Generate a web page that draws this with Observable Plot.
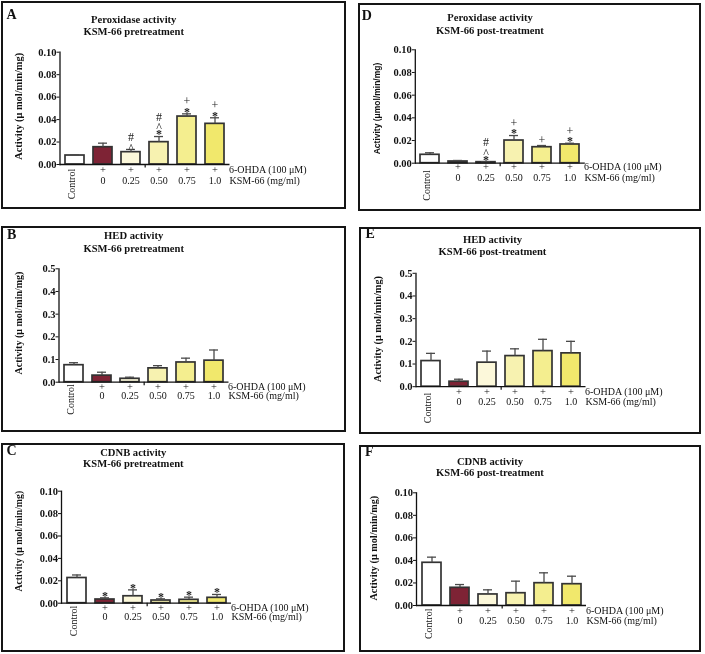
<!DOCTYPE html>
<html><head><meta charset="utf-8">
<script src="https://cdn.jsdelivr.net/npm/d3@7"></script>
<script src="https://cdn.jsdelivr.net/npm/@observablehq/plot@0.6"></script>
<style>
body{margin:0;background:#fff;}
#root{position:relative;width:705px;height:654px;overflow:hidden;background:#fff;font-family:"Liberation Serif","Times New Roman",serif;color:#111;}
.box{position:absolute;border:2px solid #151515;box-sizing:border-box;}
.letter{position:absolute;font-weight:bold;font-size:14px;line-height:14px;white-space:nowrap;}
.title{position:absolute;font-weight:bold;font-size:10.6px;line-height:12px;white-space:nowrap;transform:translateX(-50%);}
</style></head><body><div id="root"></div>
<script>
// ---- data ----
const categories = ["Control", "0", "0.25", "0.50", "0.75", "1.0"];
const ohdaRow = ["", "+", "+", "+", "+", "+"];
const ksmRow = ["", "0", "0.25", "0.50", "0.75", "1.0"];
const ohdaLabel = "6-OHDA (100 μM)";
const ksmLabel = "KSM-66 (mg/ml)";
const yLabelSerif = "Activity (μ mol/min/mg)";
const yLabelSans = "Activity (μmol/min/mg)";
const ticksSmall = [0, 0.02, 0.04, 0.06, 0.08, 0.10];
const ticksLarge = [0, 0.1, 0.2, 0.3, 0.4, 0.5];

const peroxPreMean = [0.0080, 0.0154, 0.0110, 0.0199, 0.0427, 0.0362];
const peroxPreSem  = [0.0006, 0.0036, 0.0024, 0.0050, 0.0024, 0.0054];
const peroxPreSig  = [[], [], ["^", "#"], ["*", "^", "#"], ["*", "+"], ["*", "+"]];

const hedPreMean = [0.075, 0.029, 0.015, 0.061, 0.087, 0.095];
const hedPreSem  = [0.011, 0.015, 0.007, 0.012, 0.019, 0.047];

const cdnbPreMean = [0.0225, 0.0033, 0.0062, 0.0024, 0.0030, 0.0048];
const cdnbPreSem  = [0.0027, 0.0015, 0.0057, 0.0015, 0.0024, 0.0030];
const cdnbPreSig  = [[], ["*"], ["*"], ["*"], ["*"], ["*"]];

const peroxPostMean = [0.0074, 0.0015, 0.0009, 0.0200, 0.0141, 0.0165];
const peroxPostSem  = [0.0018, 0.0009, 0.0003, 0.0044, 0.0015, 0.0011];
const peroxPostSig  = [[], [], ["*", "^", "#"], ["*", "+"], ["+"], ["*", "+"]];

const hedPostMean = [0.113, 0.022, 0.106, 0.135, 0.157, 0.147];
const hedPostSem  = [0.034, 0.011, 0.051, 0.032, 0.052, 0.053];

const cdnbPostMean = [0.0379, 0.0157, 0.0098, 0.0109, 0.0198, 0.0189];
const cdnbPostSem  = [0.0050, 0.0029, 0.0041, 0.0107, 0.0092, 0.0071];

// ---- styles / layout ----
const barColors = ["#ffffff", "#7e2335", "#fcf8da", "#f7f2b0", "#f4ee8f", "#f1e86c"];
const FRAME_W = 170;
const SERIF = "'Liberation Serif','Times New Roman',serif";
const SANS = "'Liberation Sans',Arial,sans-serif";

const panels = [
  {letter: "A", title: ["Peroxidase activity", "KSM-66 pretreatment"], mean: peroxPreMean, sem: peroxPreSem, sig: peroxPreSig,
   ticks: ticksSmall, fmt: ".2f", ylabel: yLabelSerif, ylabFont: SERIF, ylabSize: 10.4,
   box: [1, 1, 346, 209], letterPos: [6.5, 15], titleX: 133.7, titleY: [20, 32.3],
   frame: {left: 59.5, top: 51.7, bottom: 164}, ylabDx: -41.2, ylabDy: -2, ctrlDy: 4.3, r1: 8.5, r2: 19},
  {letter: "B", title: ["HED activity", "KSM-66 pretreatment"], mean: hedPreMean, sem: hedPreSem, sig: [],
   ticks: ticksLarge, fmt: ".1f", ylabel: yLabelSerif, ylabFont: SERIF, ylabSize: 10,
   box: [1, 226, 346, 432], letterPos: [7, 235.3], titleX: 133.7, titleY: [236, 248.5],
   frame: {left: 58.5, top: 268.3, bottom: 381.7}, ylabDx: -40.5, ylabDy: -2.5, ctrlDy: 2, r1: 7.5, r2: 17.2},
  {letter: "C", title: ["CDNB activity", "KSM-66 pretreatment"], mean: cdnbPreMean, sem: cdnbPreSem, sig: cdnbPreSig,
   ticks: ticksSmall, fmt: ".2f", ylabel: yLabelSerif, ylabFont: SERIF, ylabSize: 9.8,
   box: [1, 443, 345, 652], letterPos: [6.5, 450.5], titleX: 133.3, titleY: [452.5, 464],
   frame: {left: 61, top: 490.7, bottom: 602.7}, ylabDx: -43, ylabDy: -6, ctrlDy: 2.5, r1: 7.3, r2: 17},
  {letter: "D", title: ["Peroxidase activity", "KSM-66 post-treatment"], mean: peroxPostMean, sem: peroxPostSem, sig: peroxPostSig,
   ticks: ticksSmall, fmt: ".2f", ylabel: yLabelSans, ylabFont: SANS, ylabSize: 8.5,
   box: [357.5, 3, 701, 211], letterPos: [361.7, 16], titleX: 490, titleY: [18.3, 31],
   frame: {left: 414.3, top: 49.3, bottom: 162.7}, ylabDx: -38.3, ylabDy: 2, ctrlDy: 7, r1: 6.5, r2: 17.8},
  {letter: "E", title: ["HED activity", "KSM-66 post-treatment"], mean: hedPostMean, sem: hedPostSem, sig: [],
   ticks: ticksLarge, fmt: ".1f", ylabel: yLabelSerif, ylabFont: SERIF, ylabSize: 10.3,
   box: [359, 226.5, 701, 433.5], letterPos: [365.5, 234], titleX: 492.5, titleY: [239.5, 252],
   frame: {left: 415.5, top: 272.3, bottom: 385.7}, ylabDx: -38, ylabDy: -1, ctrlDy: 6, r1: 8.3, r2: 18},
  {letter: "F", title: ["CDNB activity", "KSM-66 post-treatment"], mean: cdnbPostMean, sem: cdnbPostSem, sig: [],
   ticks: ticksSmall, fmt: ".2f", ylabel: yLabelSerif, ylabFont: SERIF, ylabSize: 10.2,
   box: [359, 445, 701, 652], letterPos: [365, 451.7], titleX: 490, titleY: [461.7, 473.3],
   frame: {left: 416, top: 492.3, bottom: 605}, ylabDx: -42.3, ylabDy: -1, ctrlDy: 3, r1: 8, r2: 18.2}
];

const half = {"*": 2.5, "^": 2, "#": 4, "+": 3.5};
const root = document.getElementById("root");

function addDiv(cls, text, left, top) {
  const d = document.createElement("div");
  d.className = cls;
  d.textContent = text;
  d.style.left = left + "px";
  d.style.top = top + "px";
  root.appendChild(d);
  return d;
}

panels.forEach(p => {
  const [x0, y0, x1, y1] = p.box;
  const W = x1 - x0, H = y1 - y0;
  const box = document.createElement("div");
  box.className = "box";
  Object.assign(box.style, {left: x0 + "px", top: y0 + "px", width: W + "px", height: H + "px"});
  root.appendChild(box);

  const rows = categories.map((c, i) => ({
    cat: c, mean: p.mean[i], sem: p.sem[i], top: p.mean[i] + p.sem[i], ohda: ohdaRow[i], ksm: ksmRow[i]
  }));
  const ymax = p.ticks[p.ticks.length - 1];
  const marginLeft = p.frame.left - x0;
  const marginTop = p.frame.top - y0;
  const marginBottom = y1 - p.frame.bottom;
  const marginRight = W - marginLeft - FRAME_W;
  const step = FRAME_W / categories.length;

  const sigMarks = [];
  rows.forEach((r, i) => {
    let center = 0, prev = null;
    (p.sig[i] || []).forEach(s => {
      center = prev ? center - (half[prev] + half[s] + 2.5) : -(1.5 + half[s]);
      const high = s === "*" || s === "^";
      sigMarks.push(Plot.text([r], {
        x: "cat", y: "top", text: () => s, dy: center + (high ? 2.1 : 0),
        fontSize: 12, fontWeight: s === "*" ? "bold" : "normal", fill: "#1a1a1a"
      }));
      prev = s;
    });
  });

  const chart = Plot.plot({
    width: W, height: H, marginLeft, marginRight, marginTop, marginBottom,
    style: {position: "absolute", left: x0 + "px", top: y0 + "px", background: "transparent",
            overflow: "visible", maxWidth: "none", fontFamily: SERIF, fontSize: "10px", color: "#111",
            willChange: "transform"},
    x: {domain: categories, paddingInner: 0.33, paddingOuter: 0.165, axis: null},
    y: {domain: [0, ymax], axis: null},
    color: {domain: categories, range: barColors},
    marks: [
      Plot.barY(rows, {x: "cat", y: "mean", fill: "cat", stroke: "#333", strokeWidth: 1.7}),
      Plot.ruleX(rows, {x: "cat", y1: "mean", y2: "top", stroke: "#4a4a4a", strokeWidth: 1.3}),
      Plot.tickY(rows, {x: "cat", y: "top", stroke: "#4a4a4a", strokeWidth: 1.3, insetLeft: 5, insetRight: 5}),
      ...sigMarks,
      Plot.axisY({ticks: p.ticks, tickFormat: d3.format(p.fmt), tickSize: 3, tickPadding: 0.5,
                  fontWeight: "bold", fontSize: 10.5, label: null}),
      Plot.frame({anchor: "left", stroke: "#111", strokeWidth: 1.3}),
      Plot.ruleY([0], {stroke: "#111", strokeWidth: 1.3}),
      Plot.ruleX([categories[2]], {x: d => d, y1: () => 0, y2: () => 0, dx: step / 2, insetBottom: -3.5, stroke: "#111", strokeWidth: 1.2}),
      Plot.text(rows.filter(r => r.ohda), {x: "cat", frameAnchor: "bottom", text: "ohda", dy: p.r1, fontSize: 10.5, fill: "#111"}),
      Plot.text(rows.filter(r => r.ksm), {x: "cat", frameAnchor: "bottom", text: "ksm", dy: p.r2, fontSize: 10}),
      Plot.text([categories[5]], {x: d => d, frameAnchor: "bottom", text: () => ohdaLabel, textAnchor: "start", dx: 14, dy: p.r1, fontSize: 10}),
      Plot.text([categories[5]], {x: d => d, frameAnchor: "bottom", text: () => ksmLabel, textAnchor: "start", dx: 14.5, dy: p.r2, fontSize: 10}),
      Plot.text([categories[0]], {x: d => d, frameAnchor: "bottom", text: d => d, rotate: -90, textAnchor: "end", dy: p.ctrlDy, fontSize: 10}),
      Plot.text([p.ylabel], {frameAnchor: "left", text: d => d, rotate: -90, textAnchor: "middle", dx: p.ylabDx, dy: p.ylabDy,
                             fontWeight: "bold", fontSize: p.ylabSize, fontFamily: p.ylabFont})
    ]
  });
  root.appendChild(chart);

  addDiv("letter", p.letter, p.letterPos[0], p.letterPos[1] - 7);
  p.title.forEach((t, k) => addDiv("title", t, p.titleX, p.titleY[k] - 6));
});
</script>
</body></html>
